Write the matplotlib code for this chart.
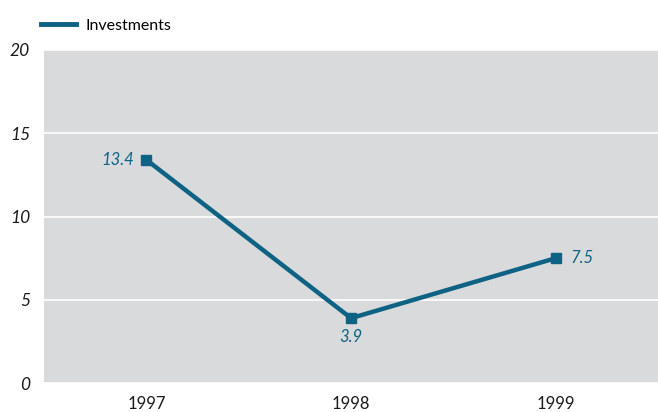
import matplotlib.pyplot as plt
from matplotlib.lines import Line2D

years = ['1997', '1998', '1999']
investments = [13.4, 3.9, 7.5]

line_color = '#0e6284'
bg_color = '#d9dadc'

plt.rcParams['font.family'] = ['Lato', 'DejaVu Sans']

fig = plt.figure(figsize=(6.58, 4.12), dpi=100)
ax = fig.add_axes([0.067, 0.070, 0.933, 0.809])
ax.set_facecolor(bg_color)

x = list(range(len(years)))
ax.plot(x, investments, color=line_color, linewidth=3.2, marker='s',
        markersize=7, zorder=3)

# data labels
offsets = [(-0.06, 0, 'right', 'center'),
           (0, -1.15, 'center', 'center'),
           (0.07, 0, 'left', 'center')]
for xi, val, (dx, dy, ha, va) in zip(x, investments, offsets):
    ax.text(xi + dx, val + dy, str(val), color=line_color, fontsize=12,
            style='italic', ha=ha, va=va)

ax.set_xlim(-0.5, 2.5)
ax.set_ylim(0, 20)
ax.set_yticks([0, 5, 10, 15, 20])
ax.set_xticks(x)
ax.set_xticklabels(years, fontsize=12, color='#1a1a1a')
for lbl in ax.get_yticklabels():
    lbl.set_fontstyle('italic')
    lbl.set_fontsize(12.5)
    lbl.set_color('#1a1a1a')
ax.tick_params(length=0, pad=10)
ax.tick_params(axis='x', pad=9)
ax.grid(axis='y', color='white', linewidth=1.2)
ax.set_axisbelow(True)
for s in ax.spines.values():
    s.set_visible(False)

# legend
legend_elements = [Line2D([0], [0], color=line_color, linewidth=3.5, label='Investments')]
fig.legend(handles=legend_elements, loc='upper left', bbox_to_anchor=(0.04, 0.99),
           frameon=False, fontsize=11.5, handlelength=2.2, handletextpad=0.6)

plt.savefig('out.png', dpi=100)
